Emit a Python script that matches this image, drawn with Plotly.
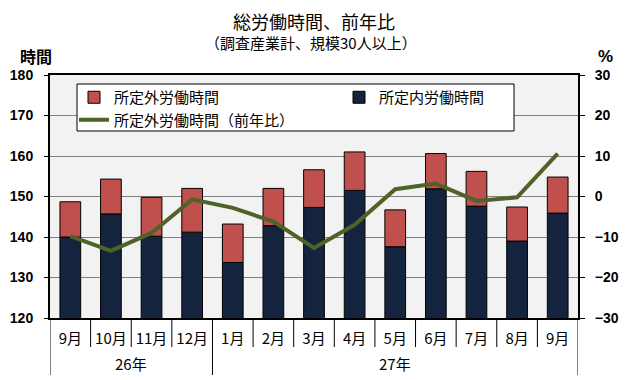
import plotly.graph_objects as go

months = ["9月", "10月", "11月", "12月", "1月", "2月", "3月", "4月", "5月", "6月", "7月", "8月", "9月"]
years = ["26年", "27年"]
year_spans = [4, 9]
scheduled = [140.0, 145.7, 140.2, 141.2, 133.7, 142.8, 147.3, 151.5, 137.6, 151.9, 147.6, 139.0, 145.9]
overtime = [8.7, 8.6, 9.6, 10.8, 9.5, 9.2, 9.3, 9.5, 9.1, 8.7, 8.6, 8.4, 8.9]
overtime_yoy = [-9.8, -13.4, -9.0, -0.7, -2.8, -6.2, -12.7, -7.0, 1.8, 3.2, -1.1, -0.2, 10.6]

x = list(range(len(months)))
FONT = "Noto Sans CJK JP"

# plot area in window pixels (page body has an 8px margin)
PL, PR, PT, PB = 50, 578, 75, 318
PW, PH = PR - PL, PB - PT


def px(xw):
    return (xw - PL) / PW


def py(yw):
    return (PB - yw) / PH


fig = go.Figure()
fig.add_trace(go.Bar(
    x=x, y=scheduled, name="所定内労働時間", legendrank=2,
    marker=dict(color="#14243e", line=dict(color="black", width=1)),
    width=0.51,
))
fig.add_trace(go.Bar(
    x=x, y=overtime, base=scheduled, name="所定外労働時間", legendrank=1,
    marker=dict(color="#c0504d", line=dict(color="black", width=1)),
    width=0.51,
))
fig.add_trace(go.Scatter(
    x=x, y=overtime_yoy, name="所定外労働時間（前年比）", legendrank=3,
    mode="lines", line=dict(color="#4f6228", width=4), yaxis="y2",
))

shapes = []
long_bounds = [-0.5]
acc = -0.5
for s in year_spans:
    acc += s
    long_bounds.append(acc)
for i in range(len(months) + 1):
    xb = i - 0.5
    y1 = py(375) if xb in long_bounds else py(347)
    shapes.append(dict(type="line", xref="x", yref="paper", x0=xb, x1=xb, y0=0, y1=y1,
                       line=dict(color="black", width=1)))
# legend frame
shapes.append(dict(type="rect", xref="paper", yref="paper", x0=px(77), x1=px(514),
                   y0=py(131), y1=py(84), fillcolor="white", line=dict(color="black", width=1),
                   layer="above"))

annotations = []
start = -0.5
for yr, s in zip(years, year_spans):
    annotations.append(dict(text=yr, x=start + s / 2, y=py(363), xref="x", yref="paper",
                            yanchor="middle", showarrow=False,
                            font=dict(size=15, family=FONT, color="black")))
    start += s
annotations.append(dict(text="<b>時間</b>", xref="paper", yref="paper", x=px(36), y=py(56),
                        xanchor="center", yanchor="middle", showarrow=False,
                        font=dict(size=16, family=FONT, color="black")))
annotations.append(dict(text="<b>%</b>", xref="paper", yref="paper", x=px(605), y=py(56),
                        xanchor="center", yanchor="middle", showarrow=False,
                        font=dict(size=17, family="Liberation Sans", color="black")))
annotations.append(dict(text="総労働時間、前年比", xref="paper", yref="paper", x=px(314), y=py(21),
                        xanchor="center", yanchor="middle", showarrow=False,
                        font=dict(size=18, family=FONT, color="black")))
annotations.append(dict(text="（調査産業計、規模30人以上）", xref="paper", yref="paper", x=px(311), y=py(43),
                        xanchor="center", yanchor="middle", showarrow=False,
                        font=dict(size=15, family=FONT, color="black")))

fig.update_layout(
    width=622, height=372,
    margin=dict(l=PL - 8, r=630 - PR, t=PT - 8, b=380 - PB, autoexpand=False),
    barmode="overlay",
    paper_bgcolor="white", plot_bgcolor="#f2f2f2",
    font=dict(family=FONT, color="black"),
    showlegend=True,
    legend=dict(
        orientation="h", x=px(74), y=py(81), xanchor="left", yanchor="top",
        bgcolor="rgba(0,0,0,0)", borderwidth=0,
        entrywidth=220, entrywidthmode="pixels", traceorder="normal",
        font=dict(size=15, family=FONT, color="black"),
    ),
    xaxis=dict(
        range=[-0.5, len(months) - 0.5], tickmode="array", tickvals=x, ticktext=months,
        showgrid=False, ticks="", showline=True, linecolor="black", linewidth=2, mirror=True,
        tickfont=dict(size=15, family=FONT, color="black"), zeroline=False,
        ticklabelstandoff=6,
    ),
    yaxis=dict(
        range=[120, 180], dtick=10, showgrid=True, gridcolor="#808080", gridwidth=1,
        ticks="outside", ticklen=4, tickcolor="black", showline=True, linecolor="black", linewidth=2,
        tickfont=dict(size=14, family="Liberation Sans", color="black", weight="bold"), zeroline=False,
        ticklabelstandoff=8,
    ),
    yaxis2=dict(
        range=[-30, 30], dtick=10, overlaying="y", side="right", showgrid=False,
        ticks="outside", ticklen=5, tickcolor="black", showline=True, linecolor="black", linewidth=2,
        tickfont=dict(size=14, family="Liberation Sans", color="black", weight="bold"), zeroline=False,
        ticklabelstandoff=7,
    ),
    shapes=shapes,
    annotations=annotations,
)

fig.write_html("out.html")
